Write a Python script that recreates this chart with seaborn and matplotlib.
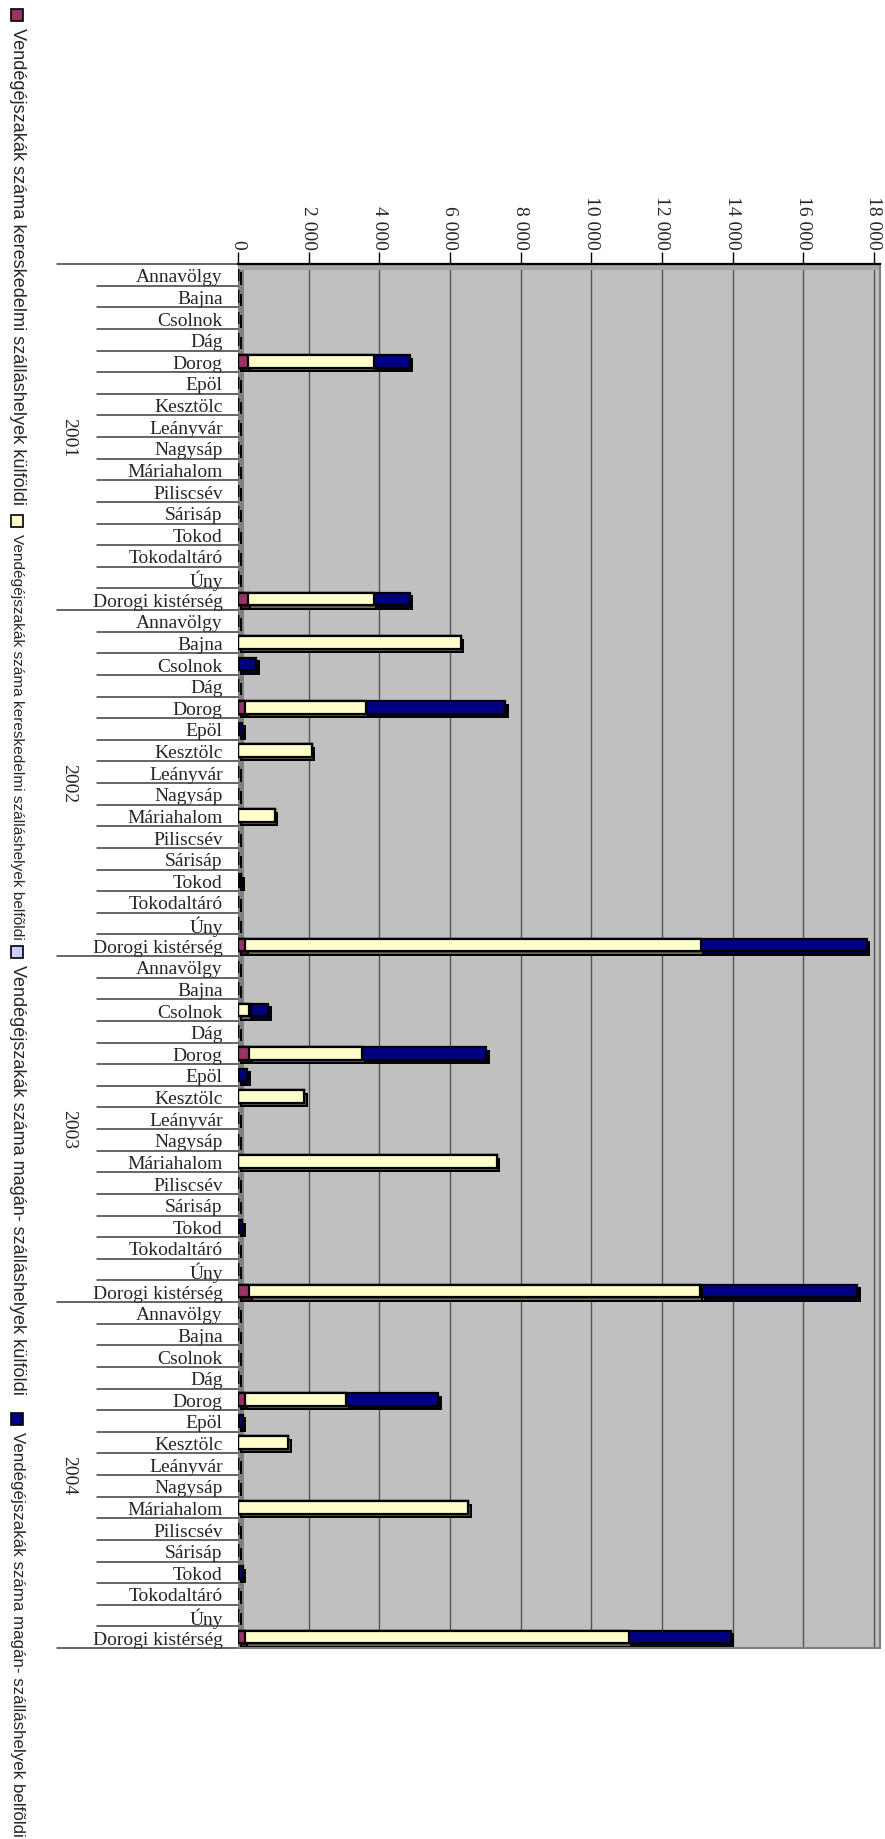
import matplotlib
matplotlib.use("Agg")
import matplotlib.pyplot as plt
import matplotlib.transforms as mtransforms
from matplotlib.patches import Rectangle
import numpy as np
import pandas as pd
import seaborn as sns

sns.set_style("white")
plt.rcParams["font.family"] = ["Liberation Serif", "DejaVu Serif"]

W, H, DPI = 885, 1840, 100

# ---- data ----
places = ["Annavölgy", "Bajna", "Csolnok", "Dág", "Dorog", "Epöl", "Kesztölc",
          "Leányvár", "Nagysáp", "Máriahalom", "Piliscsév", "Sárisáp", "Tokod",
          "Tokodaltáró", "Úny", "Dorogi kistérség"]
years = ["2001", "2002", "2003", "2004"]
series_names = [
    "Vendégéjszakák száma kereskedelmi szálláshelyek külföldi",
    "Vendégéjszakák száma kereskedelmi szálláshelyek belfõldi",
    "Vendégéjszakák száma magán- szálláshelyek külföldi",
    "Vendégéjszakák száma magán- szálláshelyek belfõldi",
]
colors = ["#993366", "#FFFFCC", "#CCCCFF", "#000080"]
shades = ["#4d1a33", "#6e6e52", "#5c5c78", "#000030"]

#                Ann Baj  Cso Dág  Dorog Epöl Kesz Leá Nag  Mária Pil Sár Tok Tokd Úny  kistérség
ker_kulf_2001 = [0, 0,    0,  0,   280,  0,   0,   0,  0,   0,    0,  0,  0,  0,   0,   280]
ker_belf_2001 = [0, 0,    0,  0,   3560, 0,   0,   0,  0,   0,    0,  0,  0,  0,   0,   3560]
mag_kulf_2001 = [0, 0,    0,  0,   0,    0,   0,   0,  0,   0,    0,  0,  0,  0,   0,   0]
mag_belf_2001 = [0, 0,    0,  0,   1020, 0,   0,   0,  0,   0,    0,  0,  0,  0,   0,   1020]

ker_kulf_2002 = [0, 0,    0,  0,   200,  0,   0,   0,  0,   0,    0,  0,  0,  0,   0,   200]
ker_belf_2002 = [0, 6310, 0,  0,   3420, 0,   2090, 0, 0,   1040, 0,  0,  0,  0,   0,   12900]
mag_kulf_2002 = [0, 0,    0,  0,   0,    0,   0,   0,  0,   0,    0,  0,  0,  0,   0,   0]
mag_belf_2002 = [0, 0,    510, 0,  3950, 120, 0,   0,  0,   0,    0,  0,  95, 0,   0,   4700]

ker_kulf_2003 = [0, 0,    0,  0,   320,  0,   0,   0,  0,   0,    0,  0,  0,  0,   0,   320]
ker_belf_2003 = [0, 0,    300, 0,  3190, 0,   1870, 0, 0,   7330, 0,  0,  0,  0,   0,   12750]
mag_kulf_2003 = [0, 0,    60, 0,   0,    0,   0,   0,  0,   0,    0,  0,  0,  0,   0,   70]
mag_belf_2003 = [0, 0,    490, 0,  3510, 260, 0,   0,  0,   0,    0,  0,  120, 0,  0,   4390]

ker_kulf_2004 = [0, 0,    0,  0,   190,  0,   0,   0,  0,   0,    0,  0,  0,  0,   0,   190]
ker_belf_2004 = [0, 0,    0,  0,   2880, 0,   1420, 0, 0,   6520, 0,  0,  0,  0,   0,   10870]
mag_kulf_2004 = [0, 0,    0,  0,   0,    0,   0,   0,  0,   0,    0,  0,  0,  0,   0,   0]
mag_belf_2004 = [0, 0,    0,  0,   2600, 140, 0,   0,  0,   0,    0,  0,  140, 0,  0,   2880]

x_ticks = list(range(0, 18001, 2000))

# ---- long table ----
rows = []
blocks = {
    "2001": (ker_kulf_2001, ker_belf_2001, mag_kulf_2001, mag_belf_2001),
    "2002": (ker_kulf_2002, ker_belf_2002, mag_kulf_2002, mag_belf_2002),
    "2003": (ker_kulf_2003, ker_belf_2003, mag_kulf_2003, mag_belf_2003),
    "2004": (ker_kulf_2004, ker_belf_2004, mag_kulf_2004, mag_belf_2004),
}
for yr in years:
    s1, s2, s3, s4 = blocks[yr]
    for i, p in enumerate(places):
        rows.append({"key": f"{yr}|{p}", "place": p, "year": yr,
                     "s1": s1[i], "s2": s2[i], "s3": s3[i], "s4": s4[i]})
df = pd.DataFrame(rows)
keys = df["key"].tolist()
cum = df[["s1", "s2", "s3", "s4"]].cumsum(axis=1)

# ---- figure ----
fig = plt.figure(figsize=(W / DPI, H / DPI), dpi=DPI)
ax_l, ax_r, ax_t, ax_b = 238, 880, 265, 1649
ax = fig.add_axes([ax_l / W, 1 - ax_b / H, (ax_r - ax_l) / W, (ax_b - ax_t) / H])
ax.set_facecolor("#C0C0C0")

# 3D-ish shadow layers (offset copies)
shadow_off = mtransforms.ScaledTranslation(2.5 / DPI, -3.5 / DPI, fig.dpi_scale_trans)
for i in reversed(range(4)):
    n0 = len(ax.patches)
    sns.barplot(x=cum.iloc[:, i].values, y=keys, order=keys, orient="h",
                color=shades[i], saturation=1, width=0.58, edgecolor="black",
                linewidth=1.4, errorbar=None, ax=ax)
    for p in ax.patches[n0:]:
        p.set_transform(ax.transData + shadow_off)

# front faces, stacked by drawing cumulative sums from the top down
for i in reversed(range(4)):
    sns.barplot(x=cum.iloc[:, i].values, y=keys, order=keys, orient="h",
                color=colors[i], saturation=1, width=0.58, edgecolor="black",
                linewidth=1.6, errorbar=None, ax=ax)

ax.set_xlim(0, 18170)
ax.set_ylim(len(keys) - 0.5, -0.5)
ax.set_xlabel("")
ax.set_ylabel("")

# value axis on top
ax.xaxis.tick_top()
ax.set_xticks(x_ticks, labels=[f"{v:,}".replace(",", " ") for v in x_ticks],
              rotation=-90, fontsize=14)
ax.tick_params(axis="x", length=9, width=1, color="black", pad=2)
ax.grid(axis="x", color="#555555", linewidth=1)
ax.set_axisbelow(True)

# category axis
ax.set_yticks(range(len(keys)), labels=df["place"].tolist(), fontsize=14)
ax.tick_params(axis="y", length=0, pad=11)

ax.spines["left"].set_visible(False)
ax.spines["top"].set_color("black")
ax.spines["top"].set_linewidth(1.6)
for side in ["right", "bottom"]:
    ax.spines[side].set_color("#808080")
    ax.spines[side].set_linewidth(1.5)

# wall edges
ax.add_patch(Rectangle((0, 0), 0.009, 1, transform=ax.transAxes,
                       facecolor="#808080", edgecolor="none", zorder=0.6))
ax.add_patch(Rectangle((0, 0.9955), 1, 0.0045, transform=ax.transAxes,
                       facecolor="#A6A6A6", edgecolor="none", zorder=0.6))

# category separators and year labels
blend = mtransforms.blended_transform_factory(ax.transAxes, ax.transData)
n_per = len(places)
for k in range(len(keys) + 1):
    x0 = (57 - ax_l) / (ax_r - ax_l) if k % n_per == 0 else (97 - ax_l) / (ax_r - ax_l)
    ax.plot([x0, 0], [k - 0.5, k - 0.5], transform=blend, color="#3a3a3a",
            linewidth=1.1, clip_on=False)
for j, yr in enumerate(years):
    ax.text((69 - ax_l) / (ax_r - ax_l), j * n_per + (n_per - 1) / 2, yr,
            transform=blend, rotation=-90, ha="center", va="center", fontsize=14)

# rotated legend down the left edge (marker centre, text length in px)
leg_marker_y = [16, 522, 953, 1420]
leg_text_len = [478, 408, 430, 404]
renderer = fig.canvas.get_renderer()
for c, name, my, tl in zip(colors, series_names, leg_marker_y, leg_text_len):
    fig.patches.append(Rectangle((11 / W, 1 - (my + 6) / H), 12 / W, 12 / H,
                                 transform=fig.transFigure, facecolor=c,
                                 edgecolor="black", linewidth=1.2))
    t = fig.text(17 / W, 1 - (my + 12) / H, name, rotation=-90, ha="center",
                 va="top", fontsize=10, family=["Liberation Sans", "DejaVu Sans"])
    ext = t.get_window_extent(renderer=renderer)
    t.set_fontsize(10 * tl / ext.height)

fig.savefig("out.png", dpi=DPI)
